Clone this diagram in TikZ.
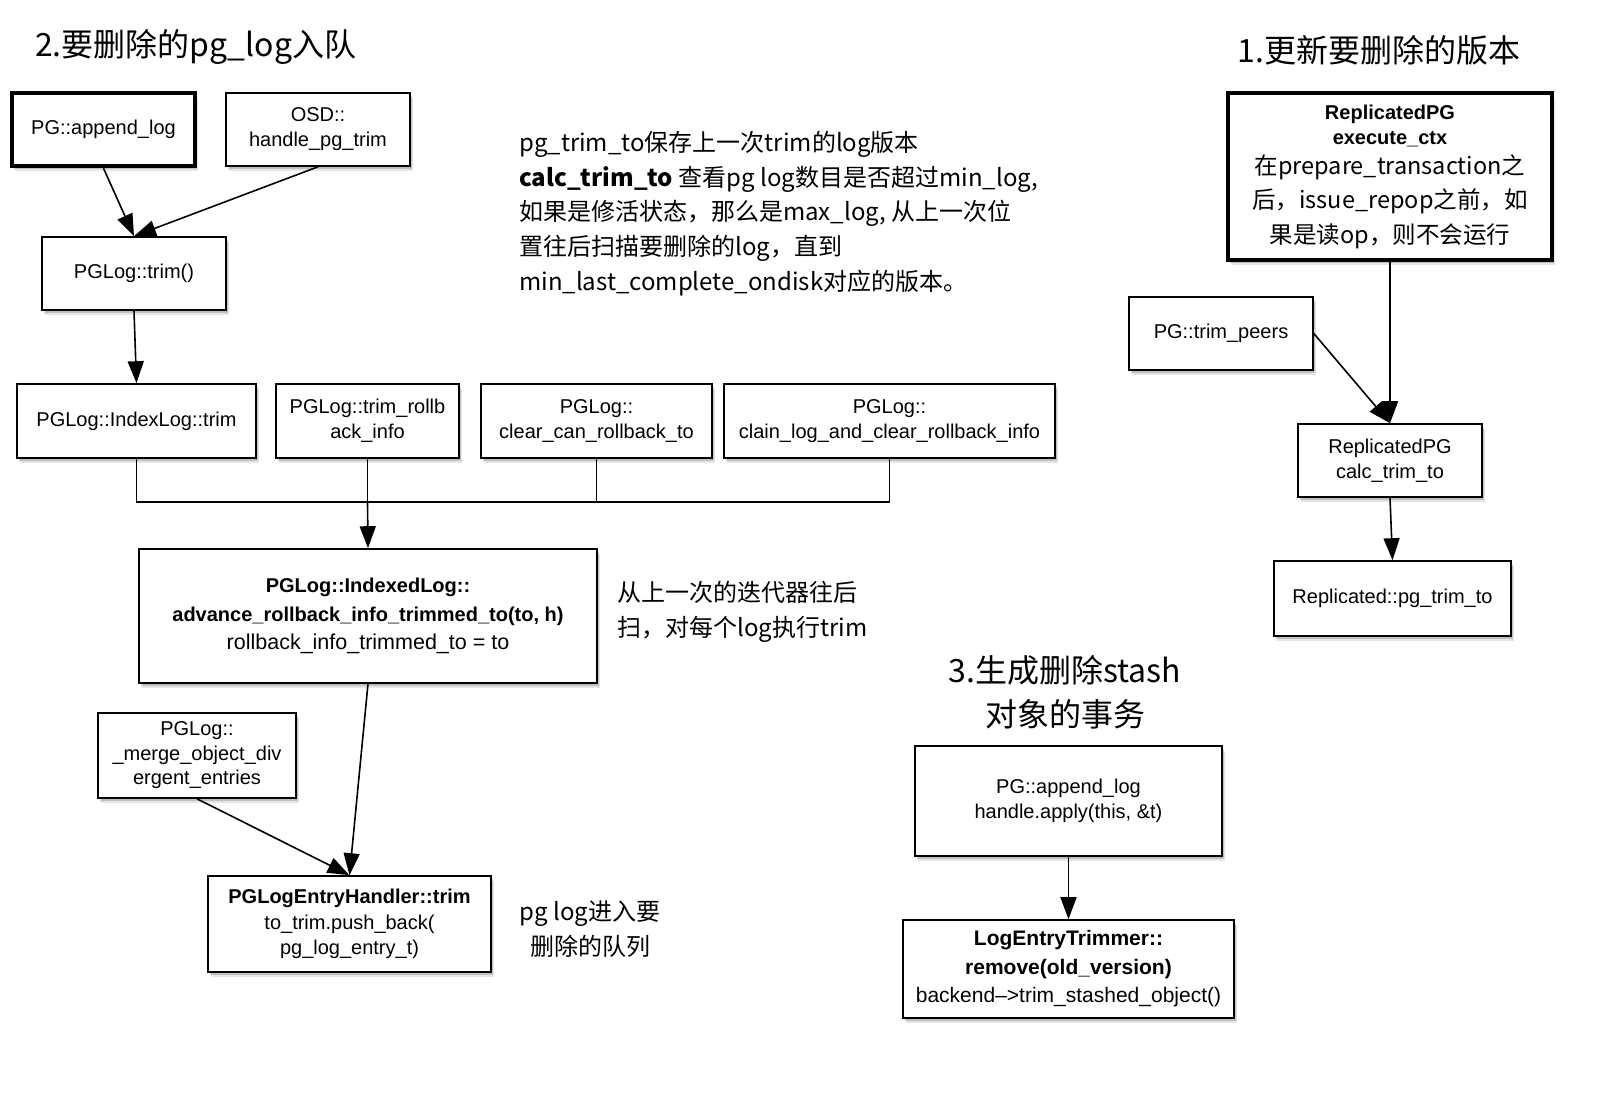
\documentclass[tikz,border=0pt]{standalone}
\usepackage{fontspec}
\setmainfont{Liberation Sans}
\newfontfamily\cjk{Noto Sans CJK SC}
\usetikzlibrary{arrows.meta,shadows}
\begin{document}
\begin{tikzpicture}[x=1pt,y=-1pt,
  box/.style={draw, line width=1.6pt, fill=white, align=center, inner sep=0pt,
    font=\fontsize{20}{25}\selectfont,
    drop shadow={shadow xshift=2.5pt, shadow yshift=-5pt, fill=black, opacity=0.10},
    drop shadow={shadow xshift=1.5pt, shadow yshift=-3pt, fill=black, opacity=0.16}},
  thickbox/.style={box, line width=4.5pt},
  arr/.style={line width=1.6pt, -{Triangle[length=22pt,width=16pt]}},
  ln/.style={line width=1.6pt},
  cn/.style={font=\cjk\fontsize{24}{34.75}\selectfont, align=left, inner sep=0pt},
  ttl/.style={font=\cjk\fontsize{32}{44}\selectfont, inner sep=0pt, align=center},
  txt/.style={inner sep=0pt, align=center}]
\useasboundingbox[fill=white] (0,0) rectangle (1599,1116);

% titles
\node[ttl, anchor=west] (t2) at (35,47) {2.要删除的pg\_log入队};
\node[ttl] (t1) at (1379,50) {1.更新要删除的版本};
\node[ttl] (t3) at (1065,692) {3.生成删除stash\\对象的事务};

% section 2 boxes
\node[thickbox, minimum width=183, minimum height=73] (A) at (103.5,129.5) {PG::append\_log};
\node[box, minimum width=184, minimum height=73] (B) at (318,129.5) {OSD::\\handle\_pg\_trim};
\node[box, minimum width=184, minimum height=73] (C) at (134,273.5) {PGLog::trim()};
\node[box, minimum width=239, minimum height=74] (D1) at (136.5,421) {PGLog::IndexLog::trim};
\node[box, minimum width=183, minimum height=74] (D2) at (367.5,421) {PGLog::trim\_rollb\\ack\_info};
\node[box, minimum width=231, minimum height=74] (D3) at (596.5,421) {PGLog::\\clear\_can\_rollback\_to};
\node[box, minimum width=331, minimum height=74] (D4) at (889.5,421) {PGLog::\\clain\_log\_and\_clear\_rollback\_info};
\node[box, minimum width=458, minimum height=134, font=\fontsize{20}{28.5}\selectfont] (E) at (368,616)
  {\textbf{PGLog::IndexedLog::}\\\textbf{advance\_rollback\_info\_trimmed\_to(to, h)}\\{\fontsize{21.5}{28.5}\selectfont rollback\_info\_trimmed\_to = to}};
\node[box, minimum width=198, minimum height=85, font=\fontsize{20}{24.5}\selectfont] (F) at (197,755.5)
  {PGLog::\\\_merge\_object\_div\\ergent\_entries};
\node[box, minimum width=283, minimum height=96, font=\fontsize{20}{25.5}\selectfont] (G) at (349.5,924)
  {\textbf{PGLogEntryHandler::trim}\\to\_trim.push\_back(\\pg\_log\_entry\_t)};

% section 1 boxes
\node[thickbox, minimum width=324, minimum height=167] (R1) at (1390,176.5) {};
\node[txt, font=\fontsize{20}{25}\selectfont] (R1a) at (1390,125.5) {\textbf{ReplicatedPG}\\\textbf{execute\_ctx}};
\node[txt, font=\cjk\fontsize{23.5}{34.5}\selectfont] (R1b) at (1390,201.5) {在prepare\_transaction之\\后，issue\_repop之前，如\\果是读op，则不会运行};
\node[box, minimum width=184, minimum height=73] (R2) at (1221,333.5) {PG::trim\_peers};
\node[box, minimum width=184, minimum height=73] (R3) at (1390,460.5) {ReplicatedPG\\calc\_trim\_to};
\node[box, minimum width=237, minimum height=75] (R4) at (1392.5,598.5) {Replicated::pg\_trim\_to};

% section 3 boxes
\node[box, minimum width=307, minimum height=110] (S1) at (1068.5,801) {PG::append\_log\\handle.apply(this, \&t)};
\node[box, minimum width=331, minimum height=98, font=\fontsize{21}{28.5}\selectfont] (S2) at (1068.5,969)
  {\textbf{LogEntryTrimmer::}\\\textbf{remove(old\_version)}\\backend–>trim\_stashed\_object()};

% free texts
\node[cn, anchor=west] (m1) at (519,213.5) {pg\_trim\_to保存上一次trim的log版本\\\textbf{calc\_trim\_to} 查看pg log数目是否超过min\_log,\\如果是修活状态，那么是max\_log, 从上一次位\\置往后扫描要删除的log，直到\\min\_last\_complete\_ondisk对应的版本。};
\node[cn, anchor=west] (m2) at (617,611.5) {从上一次的迭代器往后\\扫，对每个log执行trim};
\node[cn, align=center] (m3) at (590,929) {pg log进入要\\删除的队列};

% connectors
\coordinate (bus) at (0,502);
\draw[arr] (A.south) -- (C.north);
\draw[arr] (B.south) -- (C.north);
\draw[arr] (C.south) -- (D1.north);
\draw[ln] (D1.south) -- (D1.south |- bus) -- (D4.south |- bus) -- (D4.south);
\draw[ln] (D2.south) -- (D2.south |- bus);
\draw[ln] (D3.south) -- (D3.south |- bus);
\draw[line width=2.6pt] (D2.south |- bus) -- (D3.south |- bus);
\draw[arr] (D2.south |- bus) -- (E.north);
\draw[arr] (E.south) -- (G.north);
\draw[arr] (F.south) -- (G.north);
\draw[arr] (R1.south) -- (R3.north);
\draw[arr] (R2.east) -- (R3.north);
\draw[arr] (R3.south) -- (R4.north);
\draw[arr] (S1.south) -- (S2.north);
\end{tikzpicture}
\end{document}
